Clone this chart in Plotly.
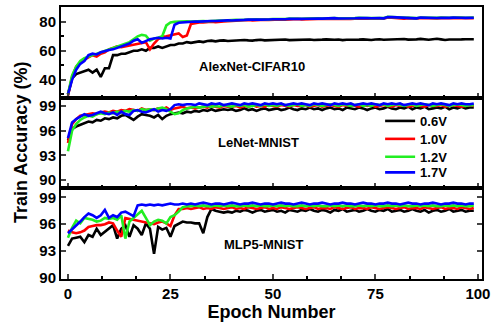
import plotly.graph_objects as go
from plotly.subplots import make_subplots

epochs = list(range(100))
voltages = ["0.6V", "1.0V", "1.2V", "1.7V"]
colors = ["#000000", "#ff0000", "#22ee22", "#0000ff"]
panel_names = ["AlexNet-CIFAR10", "LeNet-MNIST", "MLP5-MNIST"]

alex_06 = [30, 41, 44, 45, 46, 47, 45, 47, 42, 48,
           48, 57, 57, 58, 58, 59, 60, 60, 61, 60,
           62, 62, 63, 62, 63, 64, 64, 65, 65, 66,
           65.5, 66, 66.5, 66, 66.8, 67, 66.5, 67, 67.2, 66.8,
           67, 67.3, 67, 67.5, 67.2, 67, 67.4, 67.6, 67.2, 67.4,
           67.5, 67.3, 67.6, 67.8, 67.4, 67.5, 67.7, 67.3, 67.6, 67.8,
           67.5, 67.4, 67.7, 67.9, 67.5, 67.6, 67.8, 67.4, 67.6, 67.8,
           67.5, 67.7, 67.9, 67.6, 67.5, 67.8, 68.0, 67.6, 67.7, 67.9,
           67.6, 67.8, 68.1, 67.7, 67.6, 67.9, 68.2, 67.8, 67.6, 68.0,
           68.3, 67.9, 67.5, 67.8, 68.0, 67.7, 67.9, 68.0, 67.8, 68.0]
alex_10 = [29, 42, 49, 52, 54, 55.5, 57, 56, 58, 59,
           61, 62, 63, 62.5, 63, 63.5, 64, 65, 65.5, 66,
           61, 65, 68, 69.5, 70, 70.5, 71, 72, 69.5, 70.5,
           78.5, 79.3, 79.6, 79.5, 79.8, 80.0, 79.8, 80.2, 80.3, 80.4,
           80.6, 80.9, 80.8, 81.0, 81.2, 81.0, 81.3, 81.2, 81.5, 81.3,
           81.5, 81.4, 81.7, 81.5, 81.8, 81.6, 81.9, 81.7, 81.8, 82.0,
           81.8, 82.0, 81.9, 82.1, 81.9, 82.2, 82.0, 81.9, 82.2, 82.0,
           82.1, 82.3, 82.0, 82.2, 82.1, 82.3, 82.2, 82.1, 82.9, 82.8,
           82.6, 82.4, 82.2, 82.5, 82.3, 82.1, 82.6, 82.4, 82.2, 82.5,
           82.3, 82.5, 82.2, 82.4, 82.6, 82.3, 82.5, 82.4, 82.3, 82.5]
alex_12 = [30, 43, 49, 53, 55, 56, 57, 58, 58.5, 59.5,
           60.5, 61.5, 62.5, 63.5, 64.5, 66, 68, 70, 71, 70.5,
           67, 68.5, 69, 70, 77.5, 79.5, 80, 80.2, 80.4, 80.3,
           80.2, 80.4, 80.3, 80.5, 80.4, 80.7, 80.6, 80.9, 80.8, 81.1,
           81.0, 81.3, 81.2, 81.4, 81.6, 81.4, 81.7, 81.6, 81.9, 81.7,
           81.9, 81.8, 82.1, 81.9, 82.2, 82.0, 82.3, 82.1, 82.2, 82.4,
           82.2, 82.4, 82.3, 82.5, 82.3, 82.6, 82.4, 82.3, 82.6, 82.4,
           82.5, 82.7, 82.4, 82.6, 82.5, 82.7, 82.6, 82.5, 83.4, 83.3,
           83.1, 82.8, 82.6, 82.9, 82.7, 82.5, 83.0, 82.8, 82.6, 82.9,
           82.7, 82.9, 82.6, 82.8, 83.0, 82.7, 82.9, 82.8, 82.7, 82.9]
alex_17 = [30, 40, 47, 51, 53, 57, 58, 57.5, 59, 60,
           60.5, 61, 62, 63, 64, 65, 67, 68, 65.5, 67,
           68, 68.5, 69, 68.5, 69, 68.5, 78, 79.3, 79.6, 79.8,
           80.0, 80.2, 80.1, 80.4, 80.3, 80.6, 80.5, 80.8, 80.7, 81.0,
           80.9, 81.2, 81.1, 81.3, 81.5, 81.3, 81.6, 81.5, 81.8, 81.6,
           81.8, 81.7, 82.0, 81.8, 82.1, 81.9, 82.2, 82.0, 82.1, 82.3,
           82.1, 82.3, 82.2, 82.4, 82.2, 82.5, 82.3, 82.2, 82.5, 82.3,
           82.4, 82.6, 82.3, 82.5, 82.4, 82.6, 82.5, 82.4, 83.3, 83.2,
           83.0, 82.7, 82.5, 82.8, 82.6, 82.4, 82.9, 82.7, 82.5, 82.8,
           82.6, 82.8, 82.5, 82.7, 82.9, 82.6, 82.8, 82.7, 82.6, 82.8]

lenet_06 = [94.8, 96.2, 96.5, 96.7, 96.9, 97.1, 97.0, 97.3, 97.2, 97.5,
            97.4, 97.6, 97.5, 97.8, 97.9, 97.6, 97.3, 97.7, 98.0, 97.9,
            97.8, 97.6, 97.9, 97.4, 97.8, 98.0, 98.1, 98.2, 98.1, 98.3,
            98.2, 98.4, 98.3, 98.5, 98.4, 98.6, 98.4, 98.5, 98.6, 98.5,
            98.6, 98.4, 98.5, 98.7, 98.5, 98.6, 98.4, 98.6, 98.7, 98.5,
            98.6, 98.7, 98.5, 98.6, 98.8, 98.6, 98.5, 98.7, 98.6, 98.8,
            98.6, 98.7, 98.5, 98.7, 98.8, 98.6, 98.7, 98.5, 98.8, 98.7,
            98.6, 98.8, 98.7, 98.5, 98.7, 98.8, 98.6, 98.7, 98.9, 98.7,
            98.6, 98.8, 98.7, 98.9, 98.6, 98.8, 98.7, 98.9, 98.6, 98.7,
            98.8, 98.7, 98.9, 98.6, 98.8, 98.7, 98.9, 98.7, 98.8, 98.8]
lenet_10 = [94.5, 96.8, 97.4, 97.8, 97.9, 98.0, 98.1, 98.0, 98.2, 98.3,
            98.2, 98.4, 98.3, 98.5, 98.4, 98.6, 98.5, 98.4, 98.7, 98.5,
            98.6, 98.5, 98.7, 98.6, 98.8, 98.5, 98.7, 98.8, 98.9, 98.7,
            98.8, 98.7, 98.8, 98.9, 98.8, 99.0, 98.9, 98.8, 99.0, 98.9,
            98.9, 99.0, 98.8, 99.0, 98.9, 99.1, 98.9, 99.0, 98.9, 99.1,
            99.0, 98.9, 99.1, 99.0, 98.9, 99.1, 99.0, 99.0, 99.1, 98.9,
            99.0, 99.1, 98.9, 99.0, 99.1, 99.0, 98.9, 99.1, 99.0, 99.1,
            99.0, 98.9, 99.1, 99.0, 99.1, 98.9, 99.0, 99.1, 99.0, 98.9,
            99.1, 99.0, 99.1, 98.9, 99.0, 99.1, 99.0, 98.9, 99.1, 99.0,
            99.0, 99.1, 98.9, 99.0, 99.1, 99.0, 98.9, 99.0, 99.1, 99.0]
lenet_12 = [93.5, 96.0, 96.8, 97.3, 97.6, 97.8, 97.7, 98.0, 98.1, 98.0,
            98.2, 98.1, 98.3, 98.2, 98.4, 98.3, 98.5, 98.4, 98.6, 98.5,
            98.6, 98.5, 98.7, 98.8, 98.6, 98.3, 98.0, 98.1, 98.5, 98.7,
            98.8, 98.9, 98.8, 98.9, 99.0, 98.9, 99.0, 98.9, 99.1, 99.0,
            98.9, 99.1, 99.0, 99.1, 98.9, 99.0, 99.1, 99.0, 99.2, 99.0,
            99.1, 99.0, 99.2, 99.1, 99.0, 99.1, 99.2, 99.0, 99.1, 99.0,
            99.2, 99.1, 99.0, 99.1, 99.2, 99.1, 99.0, 99.2, 99.1, 99.0,
            99.1, 99.2, 99.0, 99.1, 99.0, 99.2, 99.1, 99.2, 99.0, 99.1,
            99.2, 99.1, 99.0, 99.1, 99.2, 99.0, 99.1, 99.2, 99.1, 99.0,
            99.1, 99.2, 99.1, 99.0, 99.1, 99.2, 99.1, 99.0, 99.1, 99.1]
lenet_17 = [95.1, 97.0, 97.4, 97.7, 98.0, 97.8, 97.9, 98.1, 98.3, 98.1,
            98.0, 98.2, 97.9, 98.3, 98.0, 97.9, 98.4, 98.5, 98.3, 98.2,
            98.4, 98.6, 98.3, 98.5, 98.4, 98.6, 99.1, 99.2, 99.1, 99.2,
            99.2, 99.1, 99.3, 99.2, 99.1, 99.3, 99.2, 99.3, 99.1, 99.2,
            99.3, 99.2, 99.1, 99.3, 99.2, 99.3, 99.2, 99.1, 99.3, 99.2,
            99.3, 99.2, 99.3, 99.1, 99.2, 99.3, 99.2, 99.3, 99.2, 99.1,
            99.3, 99.2, 99.3, 99.2, 99.1, 99.3, 99.2, 99.3, 99.2, 99.3,
            99.1, 99.2, 99.3, 99.2, 99.3, 99.2, 99.1, 99.3, 99.2, 99.3,
            99.2, 99.3, 99.1, 99.2, 99.3, 99.2, 99.3, 99.2, 99.1, 99.3,
            99.2, 99.3, 99.2, 99.1, 99.3, 99.2, 99.3, 99.2, 99.2, 99.3]

mlp_06 = [93.6, 94.4, 94.5, 94.6, 94.0, 94.8, 94.6, 95.5, 94.8, 95.2,
          95.5, 95.9, 94.4, 95.5, 95.9, 94.6, 95.9, 95.5, 94.8, 96.1,
          95.5, 92.7, 95.7, 95.4, 95.6, 94.6, 95.8, 96.1, 96.3, 96.2,
          96.2, 96.1, 96.1, 95.0, 96.8, 97.7, 97.5, 97.4, 97.3, 97.4,
          97.3, 97.5, 97.4, 97.6, 97.5, 97.3, 97.5, 97.6, 97.4, 97.5,
          97.6, 97.4, 97.5, 97.3, 97.6, 97.5, 97.4, 97.6, 97.5, 97.7,
          97.5, 97.4, 97.6, 97.5, 97.3, 97.6, 97.5, 97.7, 97.4, 97.5,
          97.6, 97.4, 97.5, 97.7, 97.5, 97.4, 97.6, 97.5, 97.7, 97.4,
          97.5, 97.6, 97.4, 97.5, 97.7, 97.5, 97.4, 97.6, 97.3, 97.5,
          97.6, 97.4, 97.5, 97.7, 97.4, 97.5, 97.6, 97.4, 97.5, 97.5]
mlp_10 = [95.3, 95.1, 95.0, 95.1, 95.3, 95.7, 95.8, 95.9, 95.9, 96.0,
          96.2, 96.1, 95.3, 94.6, 96.7, 96.6, 96.5, 96.4, 96.3, 96.2,
          96.1, 96.0, 96.2, 96.3, 96.1, 95.8, 97.0, 97.7, 97.7, 97.8,
          97.7, 97.8, 97.9, 97.7, 97.8, 97.7, 97.9, 97.8, 97.7, 97.8,
          97.9, 97.7, 97.8, 97.7, 97.9, 97.8, 97.7, 97.8, 97.9, 97.7,
          97.8, 97.7, 97.9, 97.8, 97.7, 97.8, 97.9, 97.8, 97.7, 97.8,
          97.9, 97.7, 97.8, 97.8, 97.7, 97.9, 97.8, 97.7, 97.8, 97.9,
          97.7, 97.8, 97.8, 97.7, 97.9, 97.8, 97.7, 97.8, 97.9, 97.8,
          97.7, 97.8, 97.9, 97.7, 97.8, 97.8, 97.7, 97.9, 97.8, 97.7,
          97.8, 97.9, 97.7, 97.8, 97.8, 97.7, 97.9, 97.8, 97.7, 97.8]
mlp_12 = [94.5, 95.6, 96.4, 96.1, 96.7, 96.6, 96.5, 96.3, 96.4, 96.7,
          96.6, 96.7, 96.5, 97.0, 94.4, 96.3, 96.7, 97.0, 97.5, 96.7,
          95.9, 96.3, 96.5, 96.4, 96.1, 96.8, 97.0, 97.4, 97.9, 98.0,
          98.0, 98.1, 98.0, 98.1, 98.0, 98.0, 98.1, 98.0, 98.1, 98.0,
          98.1, 98.0, 98.0, 98.1, 98.0, 98.1, 98.0, 98.1, 98.0, 98.0,
          98.1, 98.0, 98.1, 98.0, 98.1, 98.0, 98.0, 98.1, 98.0, 98.1,
          98.0, 98.1, 98.0, 98.0, 98.1, 98.0, 98.1, 98.0, 98.1, 98.0,
          98.0, 98.1, 98.0, 98.1, 98.0, 98.1, 98.0, 98.0, 98.1, 98.0,
          98.1, 98.0, 98.1, 98.0, 98.0, 98.1, 98.0, 98.1, 98.0, 98.1,
          98.0, 98.0, 98.1, 98.0, 98.1, 98.0, 98.1, 98.0, 98.0, 98.1]
mlp_17 = [95.0, 95.4, 95.9, 96.3, 96.8, 97.2, 97.0, 96.7, 97.0, 97.6,
          96.7, 97.0, 96.8, 97.3, 97.4, 97.1, 96.9, 98.1, 98.2, 98.1,
          98.2, 98.1, 98.2, 98.1, 98.2, 98.3, 98.2, 98.2, 98.3, 98.2,
          98.3, 98.2, 98.3, 98.4, 98.3, 98.2, 98.3, 98.3, 98.2, 98.3,
          98.4, 98.3, 98.2, 98.3, 98.3, 98.4, 98.3, 98.2, 98.3, 98.3,
          98.2, 98.3, 98.4, 98.3, 98.3, 98.2, 98.3, 98.4, 98.3, 98.2,
          98.3, 98.3, 98.4, 98.3, 98.2, 98.3, 98.3, 98.4, 98.3, 98.3,
          98.2, 98.3, 98.4, 98.3, 98.3, 98.2, 98.3, 98.3, 98.4, 98.3,
          98.3, 98.2, 98.3, 98.4, 98.3, 98.3, 98.2, 98.3, 98.3, 98.4,
          98.3, 98.2, 98.3, 98.3, 98.4, 98.3, 98.3, 98.2, 98.3, 98.3]

panels = [
    [alex_06, alex_10, alex_12, alex_17],
    [lenet_06, lenet_10, lenet_12, lenet_17],
    [mlp_06, mlp_10, mlp_12, mlp_17],
]
y_ranges = [[27.7, 90.2], [89.0, 100.0], [89.9, 100.0]]
y_ticks = [[40, 60, 80], [90, 93, 96, 99], [90, 93, 96, 99]]
y_minor = [10, None, None]
label_pos = [(45, 49.3), (46.5, 94.5), (47.8, 93.7)]
legend_y = [0.581, 0.515, 0.449, 0.392]

FONT = "Liberation Sans, Arial, sans-serif"

fig = make_subplots(rows=3, cols=1, shared_xaxes=True, vertical_spacing=0)

legend_names = ["legend", "legend2", "legend3", "legend4"]
for r, series in enumerate(panels):
    for i, vals in enumerate(series):
        fig.add_trace(go.Scatter(
            x=epochs, y=vals, mode="lines", name=voltages[i],
            line=dict(color=colors[i], width=2.6),
            showlegend=(r == 0), legend=legend_names[i],
        ), row=r + 1, col=1)

for r in range(3):
    yk = dict(range=y_ranges[r], tickvals=y_ticks[r], ticks="inside", ticklen=5,
              tickwidth=1.5, showline=True, linewidth=2, linecolor="black",
              mirror="ticks" if r == 2 else True, showgrid=False, zeroline=False,
              tickfont=dict(family=FONT, size=15, color="black", weight="bold"))
    if y_minor[r]:
        yk["minor"] = dict(dtick=y_minor[r], tick0=0, ticks="inside", ticklen=3,
                           tickwidth=1.5, tickcolor="black")
    fig.update_yaxes(row=r + 1, col=1, **yk)
    fig.update_xaxes(row=r + 1, col=1, range=[-1.7, 101], dtick=25, tick0=0,
                     ticks="inside", ticklen=5, tickwidth=1.5, showline=True,
                     linewidth=2, linecolor="black", mirror=True, showgrid=False,
                     zeroline=False, showticklabels=(r == 2),
                     minor=dict(dtick=25 / 3, tick0=0, ticks="inside", ticklen=3,
                                tickwidth=1.5, tickcolor="black"),
                     tickfont=dict(family=FONT, size=15, color="black", weight="bold"))
    fig.add_annotation(x=label_pos[r][0], y=label_pos[r][1], text=panel_names[r],
                       showarrow=False, xref=f"x{r + 1 if r else ''}",
                       yref=f"y{r + 1 if r else ''}",
                       font=dict(family=FONT, size=13, color="black", weight="bold"))

fig.update_xaxes(row=3, col=1, title=dict(text="Epoch Number", standoff=4,
                 font=dict(family=FONT, size=18, color="black", weight="bold")))

fig.add_annotation(text="Train Accuracy (%)", xref="paper", yref="paper",
                   x=-0.095, y=0.5, textangle=-90, showarrow=False,
                   xanchor="center", yanchor="middle",
                   font=dict(family=FONT, size=18, color="black", weight="bold"))

leg_common = dict(x=0.758, xanchor="left", yanchor="middle",
                  bgcolor="rgba(0,0,0,0)", itemwidth=30,
                  font=dict(family=FONT, size=13, color="black", weight="bold"))
fig.update_layout(
    width=500, height=324,
    margin=dict(l=61, r=18, t=5, b=43),
    paper_bgcolor="white", plot_bgcolor="white",
    legend=dict(y=legend_y[0], **leg_common),
    legend2=dict(y=legend_y[1], **leg_common),
    legend3=dict(y=legend_y[2], **leg_common),
    legend4=dict(y=legend_y[3], **leg_common),
)

fig.write_html("out.html", config={"displayModeBar": False},
               post_script="document.body.style.margin='0';document.body.style.padding='0';")
